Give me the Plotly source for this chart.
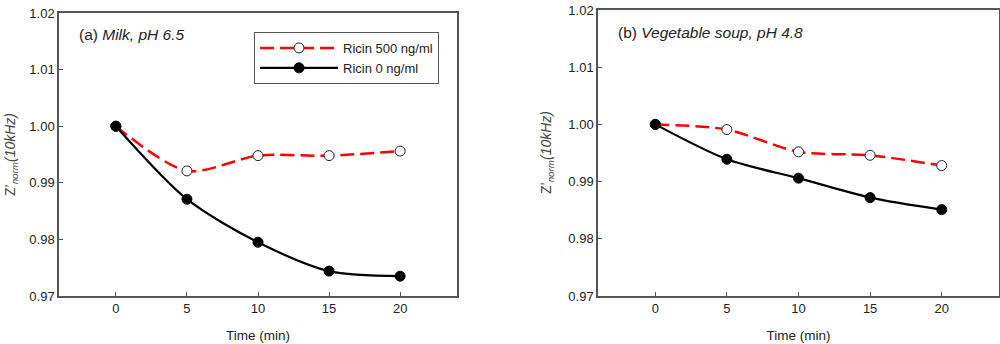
import plotly.graph_objects as go

time_min = [0, 5, 10, 15, 20]
milk_ricin500 = [1.000, 0.9921, 0.9948, 0.9948, 0.9956]
milk_ricin0 = [1.000, 0.9871, 0.9795, 0.9744, 0.9735]
soup_ricin500 = [1.000, 0.9991, 0.9952, 0.9946, 0.9928]
soup_ricin0 = [1.000, 0.9939, 0.9906, 0.9872, 0.9851]
y_ticks = [0.97, 0.98, 0.99, 1.00, 1.01, 1.02]
y_ticklabels = ["0.97", "0.98", "0.99", "1.00", "1.01", "1.02"]
x_ticks = [0, 5, 10, 15, 20]
series_names = ["Ricin 500 ng/ml", "Ricin 0 ng/ml"]
panel_titles = ["(a) <i>Milk, pH 6.5</i>", "(b) <i>Vegetable soup, pH 4.8</i>"]
y_title = "Z’<sub><i>norm</i></sub><i>(10kHz)</i>"
x_title = "Time (min)"

FONT = "Arial, Liberation Sans, sans-serif"
TXT = "#222222"
AX = "#555555"

fig = go.Figure()

def add_pair(xa, ya, r500, r0, show):
    fig.add_trace(go.Scatter(
        x=time_min, y=r500, name=series_names[0], xaxis=xa, yaxis=ya,
        mode="lines+markers", line=dict(color="#ff0000", width=2.5, dash="14px,6px", shape="spline", smoothing=0.8),
        marker=dict(symbol="circle", size=10, color="white", line=dict(color="#222222", width=1)),
        showlegend=show, legendrank=1))
    fig.add_trace(go.Scatter(
        x=time_min, y=r0, name=series_names[1], xaxis=xa, yaxis=ya,
        mode="lines+markers", line=dict(color="black", width=2.2, shape="spline", smoothing=0.8),
        marker=dict(symbol="circle", size=10, color="black", line=dict(color="black", width=1)),
        showlegend=show, legendrank=2))

add_pair("x", "y", milk_ricin500, milk_ricin0, True)
add_pair("x2", "y2", soup_ricin500, soup_ricin0, False)

ydom_bottom = (344 - 296) / 344
axis_common = dict(showline=True, linecolor=AX, linewidth=1.5, mirror=True,
                   ticks="inside", ticklen=4, tickcolor=AX, tickwidth=1,
                   showgrid=False, zeroline=False, automargin=False,
                   tickfont=dict(family=FONT, size=13, color=TXT))

fig.update_layout(
    width=1000, height=344,
    margin=dict(l=0, r=0, t=0, b=0, autoexpand=False),
    paper_bgcolor="white", plot_bgcolor="white",
    font=dict(family=FONT, color=TXT),
    xaxis=dict(domain=[0.059, 0.457], range=[-4, 24], tickvals=x_ticks, anchor="y",
               title=dict(text=x_title, font=dict(size=13.5), standoff=15), **axis_common),
    yaxis=dict(domain=[ydom_bottom, (344 - 13) / 344], range=[0.97, 1.02], tickvals=y_ticks,
               ticktext=y_ticklabels, anchor="x", **axis_common),
    xaxis2=dict(domain=[0.598, 0.999], range=[-4, 24], tickvals=x_ticks, anchor="y2",
                title=dict(text=x_title, font=dict(size=13.5), standoff=15), **axis_common),
    yaxis2=dict(domain=[ydom_bottom, (344 - 10) / 344], range=[0.97, 1.02], tickvals=y_ticks,
                ticktext=y_ticklabels, anchor="x2", **axis_common),
    legend=dict(x=0.254, y=(344 - 32) / 344, xanchor="left", yanchor="top",
                bordercolor=AX, borderwidth=1, bgcolor="white",
                font=dict(family=FONT, size=13, color=TXT), itemwidth=78,
                tracegroupgap=0),
)

fig.add_annotation(text=panel_titles[0], xref="paper", yref="paper", x=77 / 1000, y=(344 - 35) / 344,
                   xanchor="left", yanchor="middle", showarrow=False, font=dict(family=FONT, size=15.5, color=TXT))
fig.add_annotation(text=panel_titles[1], xref="paper", yref="paper", x=616 / 1000, y=(344 - 32) / 344,
                   xanchor="left", yanchor="middle", showarrow=False, font=dict(family=FONT, size=15.5, color=TXT))
fig.add_annotation(text=y_title, xref="paper", yref="paper", x=11 / 1000, y=(344 - 155) / 344,
                   xanchor="center", yanchor="middle", textangle=-90, showarrow=False,
                   font=dict(family=FONT, size=14, color="#444444"))
fig.add_annotation(text=y_title, xref="paper", yref="paper", x=547 / 1000, y=(344 - 153) / 344,
                   xanchor="center", yanchor="middle", textangle=-90, showarrow=False,
                   font=dict(family=FONT, size=14, color="#444444"))

fig.write_html("out.html", config={"displayModeBar": False},
               post_script="document.body.style.margin='0px';")
